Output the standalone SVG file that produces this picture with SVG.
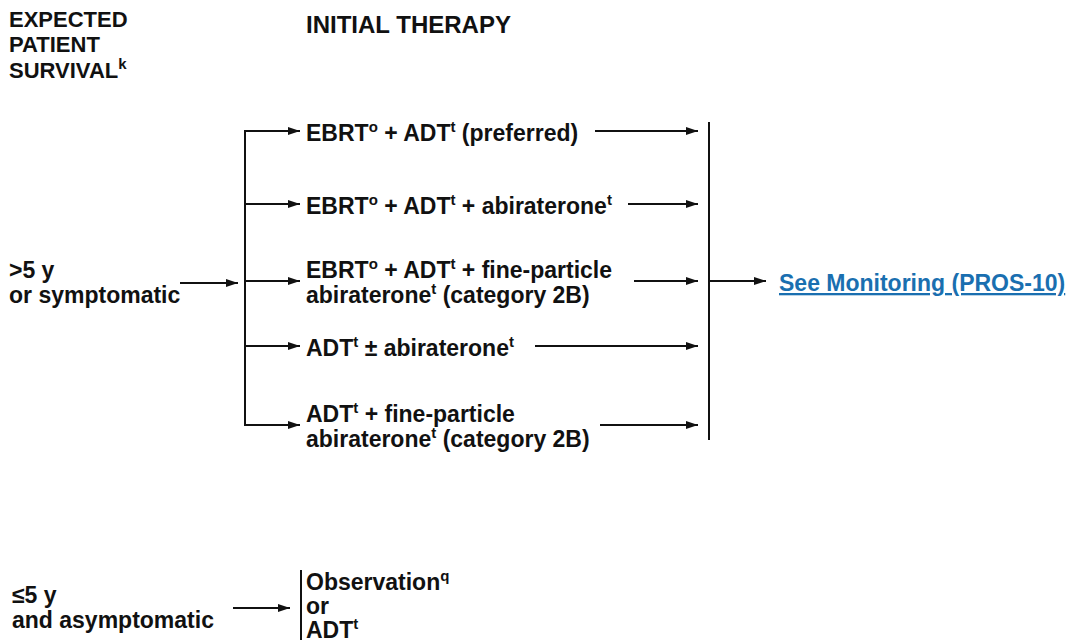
<svg xmlns="http://www.w3.org/2000/svg" width="1073" height="640" viewBox="0 0 1073 640">
<defs>
<marker id="ah" markerWidth="12" markerHeight="8" refX="12" refY="4" orient="auto" markerUnits="userSpaceOnUse">
<path d="M0,0 L12,4 L0,8 z" fill="#111"/>
</marker>
<style>
text{font-family:"Liberation Sans",Arial,sans-serif;font-weight:bold;font-size:23px;fill:#111}
.hd{font-size:22px}
.hd2{font-size:24px}
.sup{font-size:15px}
.ln{stroke:#111;stroke-width:2;fill:none}
.ar{stroke:#111;stroke-width:2;fill:none;marker-end:url(#ah)}
.link{fill:#1a6fb0;text-decoration:underline}
</style>
</defs>
<rect width="1073" height="640" fill="#fff"/>
<g id="headers">
<text class="hd" x="9" y="27">EXPECTED</text>
<text class="hd" x="9" y="52">PATIENT</text>
<text class="hd" x="9" y="78">SURVIVAL<tspan class="sup" dy="-9">k</tspan></text>
<text class="hd2" x="306" y="33">INITIAL THERAPY</text>
</g>
<g id="connectors">
<line class="ar" x1="180" y1="283" x2="238" y2="283"/>
<line class="ln" x1="245" y1="131" x2="245" y2="425"/>
<line class="ar" x1="244" y1="131" x2="300" y2="131"/>
<line class="ar" x1="244" y1="204" x2="300" y2="204"/>
<line class="ar" x1="244" y1="281" x2="300" y2="281"/>
<line class="ar" x1="244" y1="346" x2="300" y2="346"/>
<line class="ar" x1="244" y1="425" x2="300" y2="425"/>
<line class="ar" x1="595" y1="131" x2="698" y2="131"/>
<line class="ar" x1="628" y1="204" x2="698" y2="204"/>
<line class="ar" x1="634" y1="281" x2="698" y2="281"/>
<line class="ar" x1="535" y1="346" x2="698" y2="346"/>
<line class="ar" x1="600" y1="425" x2="698" y2="425"/>
<line class="ln" x1="709" y1="122" x2="709" y2="440"/>
<line class="ar" x1="709" y1="281" x2="766" y2="281"/>
<line class="ar" x1="233" y1="608" x2="290" y2="608"/>
<line class="ln" x1="301" y1="570" x2="301" y2="640"/>
</g>
<g id="n_gt5">
<text x="9" y="278">&gt;5 y</text>
<text x="9" y="303">or symptomatic</text>
</g>
<g id="n_opt1">
<text x="306" y="141">EBRT<tspan class="sup" dy="-9">o</tspan><tspan dy="9"> + ADT</tspan><tspan class="sup" dy="-9">t</tspan><tspan dy="9"> (preferred)</tspan></text>
</g>
<g id="n_opt2">
<text x="306" y="214">EBRT<tspan class="sup" dy="-9">o</tspan><tspan dy="9"> + ADT</tspan><tspan class="sup" dy="-9">t</tspan><tspan dy="9"> + abiraterone</tspan><tspan class="sup" dy="-9">t</tspan></text>
</g>
<g id="n_opt3">
<text x="306" y="278">EBRT<tspan class="sup" dy="-9">o</tspan><tspan dy="9"> + ADT</tspan><tspan class="sup" dy="-9">t</tspan><tspan dy="9"> + fine-particle</tspan></text>
<text x="306" y="303">abiraterone<tspan class="sup" dy="-9">t</tspan><tspan dy="9"> (category 2B)</tspan></text>
</g>
<g id="n_opt4">
<text x="306" y="356">ADT<tspan class="sup" dy="-9">t</tspan><tspan dy="9"> ± abiraterone</tspan><tspan class="sup" dy="-9">t</tspan></text>
</g>
<g id="n_opt5">
<text x="306" y="422">ADT<tspan class="sup" dy="-9">t</tspan><tspan dy="9"> + fine-particle</tspan></text>
<text x="306" y="447">abiraterone<tspan class="sup" dy="-9">t</tspan><tspan dy="9"> (category 2B)</tspan></text>
</g>
<g id="n_monitor">
<text class="link" x="779" y="291">See Monitoring (PROS-10)</text>
</g>
<g id="n_le5">
<text x="12" y="603">≤5 y</text>
<text x="12" y="628">and asymptomatic</text>
</g>
<g id="n_obs">
<text x="306" y="590">Observation<tspan class="sup" dy="-9">q</tspan></text>
<text x="306" y="614">or</text>
<text x="306" y="638">ADT<tspan class="sup" dy="-9">t</tspan></text>
</g>
</svg>
